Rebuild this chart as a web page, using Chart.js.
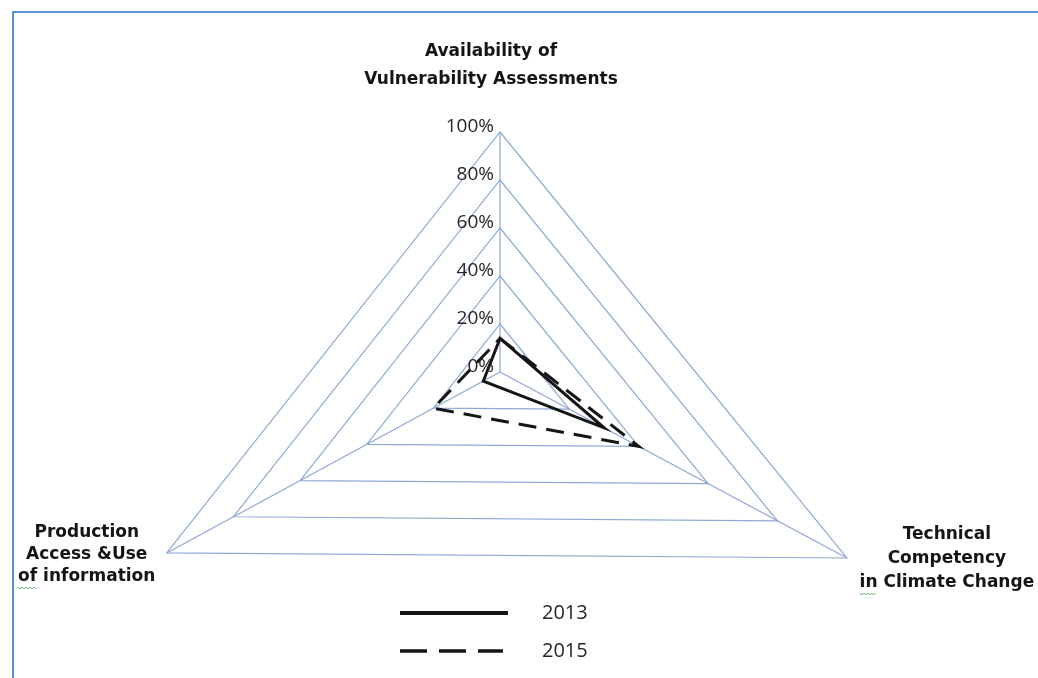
<!DOCTYPE html>
<html>
<head>
<meta charset="utf-8">
<title>Radar 2013 / 2015</title>
<script src="https://cdn.jsdelivr.net/npm/chart.js@4.4.1/dist/chart.umd.min.js"></script>
<style>
  html, body { margin: 0; padding: 0; background: #fff; }
  #frame { position: relative; width: 1038px; height: 678px; overflow: hidden; }
  #frame::before {
    content: ''; position: absolute; left: 12px; top: 11px; right: -10px; bottom: -10px;
    border-left: 2px solid #5f8fd3; border-top: 2px solid #5f8fd3;
  }
  canvas { position: absolute; left: 0; top: 0; }
</style>
</head>
<body>
<div id="frame"><canvas id="radar" width="1038" height="678"></canvas></div>
<script>
// Eixos do radar (ordem horária a partir do topo)
const axisLabels = [
    ['Availability of', 'Vulnerability Assessments'],
    ['Technical', 'Competency', 'in Climate Change'],
    ['Production', 'Access &Use', 'of information']
];
const years = ['2013', '2015'];
const values2013 = [14, 30, 5];
const values2015 = [14, 40, 20];
const tickValues = [0, 20, 40, 60, 80, 100];
const tickLabels = ['0%', '20%', '40%', '60%', '80%', '100%'];

// O triângulo não é equilátero: cada raio tem comprimento e inclinação próprios
const spokeLength = [1, 1.64, 1.58];
const spokeTurn = [0, -1.8, 1.5]; // graus

const gridBlue = '#8da8d4';
const ink = '#151515';

class StretchedRadialScale extends Chart.RadialLinearScale {
    getPointPosition(index, distance, extra = 0) {
        const n = spokeLength.length;
        const i = ((index % n) + n) % n;
        return super.getPointPosition(index, distance * spokeLength[i], extra + spokeTurn[i] * Math.PI / 180);
    }
}
StretchedRadialScale.id = 'stretchedRadial';
Chart.register(StretchedRadialScale);

// Sublinhado ondulado verde (corretor ortográfico)
function squiggle(ctx, x, y, w) {
    ctx.save();
    ctx.strokeStyle = '#58b158';
    ctx.lineWidth = 1;
    ctx.setLineDash([]);
    ctx.beginPath();
    ctx.moveTo(x, y);
    for (let k = 0; k * 2 <= w; k++) {
        ctx.lineTo(x + k * 2, y + (k % 2 ? 2 : 0));
    }
    ctx.stroke();
    ctx.restore();
}

// Rótulos das marcas de escala e dos eixos
const axisText = {
    id: 'axisText',
    afterDraw(chart) {
        const ctx = chart.ctx;
        const r = chart.scales.r;
        ctx.save();
        ctx.fillStyle = '#262626';
        ctx.font = '19px "Open Sans"';
        ctx.textAlign = 'right';
        ctx.textBaseline = 'middle';
        tickValues.forEach((v, i) => {
            const p = r.getPointPositionForValue(0, v);
            ctx.fillText(tickLabels[i], p.x - 6, p.y - 5);
        });

        const placement = [
            { dx: -9, dy: -80, lead: 28, mark: false },
            { dx: 100, dy: -23, lead: 24, mark: true },
            { dx: -80, dy: -20, lead: 22, mark: true }
        ];
        ctx.fillStyle = ink;
        ctx.font = 'bold 17px "DejaVu Sans"';
        ctx.textAlign = 'center';
        chart.data.labels.forEach((lines, i) => {
            const p = r.getPointPositionForValue(i, r.max);
            const pl = placement[i];
            lines.forEach((t, j) => {
                const x = p.x + pl.dx;
                const y = p.y + pl.dy + j * pl.lead;
                ctx.fillText(t, x, y);
                if (pl.mark && j === lines.length - 1) {
                    const start = x - ctx.measureText(t).width / 2;
                    const word = ctx.measureText(t.split(' ')[0]).width;
                    squiggle(ctx, start, y + 10, word);
                }
            });
        });
        ctx.restore();
    }
};

// Legenda vertical abaixo do gráfico
const legendBox = {
    id: 'legendBox',
    afterDraw(chart) {
        const ctx = chart.ctx;
        ctx.save();
        chart.data.datasets.forEach((ds, i) => {
            const y = 613 + i * 38;
            ctx.strokeStyle = ds.borderColor;
            ctx.lineWidth = ds.borderDash ? 3.5 : 4;
            ctx.setLineDash(ds.borderDash ? [27, 12] : []);
            ctx.beginPath();
            ctx.moveTo(400, y);
            ctx.lineTo(ds.borderDash ? 503 : 508, y);
            ctx.stroke();
            ctx.setLineDash([]);
            ctx.fillStyle = '#262626';
            ctx.font = '20px "Open Sans"';
            ctx.textAlign = 'left';
            ctx.textBaseline = 'middle';
            ctx.fillText(ds.label, 542, y);
        });
        ctx.restore();
    }
};

const myRadar = new Chart(document.getElementById('radar'), {
    type: 'radar',
    data: {
        labels: axisLabels,
        datasets: [{
            label: years[0],
            data: values2013,
            borderColor: ink,
            borderWidth: 3,
            borderJoinStyle: 'miter',
            fill: false,
            pointRadius: 0
        }, {
            label: years[1],
            data: values2015,
            borderColor: ink,
            borderWidth: 3,
            borderDash: [18, 10],
            borderJoinStyle: 'miter',
            fill: false,
            pointRadius: 0
        }]
    },
    options: {
        responsive: false,
        animation: false,
        layout: { padding: { left: 260, right: 298, top: 132, bottom: 66 } },
        elements: { line: { tension: 0 } },
        plugins: {
            legend: { display: false },
            tooltip: { enabled: false }
        },
        scales: {
            r: {
                type: 'stretchedRadial',
                min: 0,
                max: 100,
                ticks: { display: false, stepSize: 20 },
                pointLabels: { display: false },
                grid: { color: gridBlue, lineWidth: 1.2 },
                angleLines: { color: gridBlue, lineWidth: 1.2 }
            }
        }
    },
    plugins: [axisText, legendBox]
});
</script>
</body>
</html>
